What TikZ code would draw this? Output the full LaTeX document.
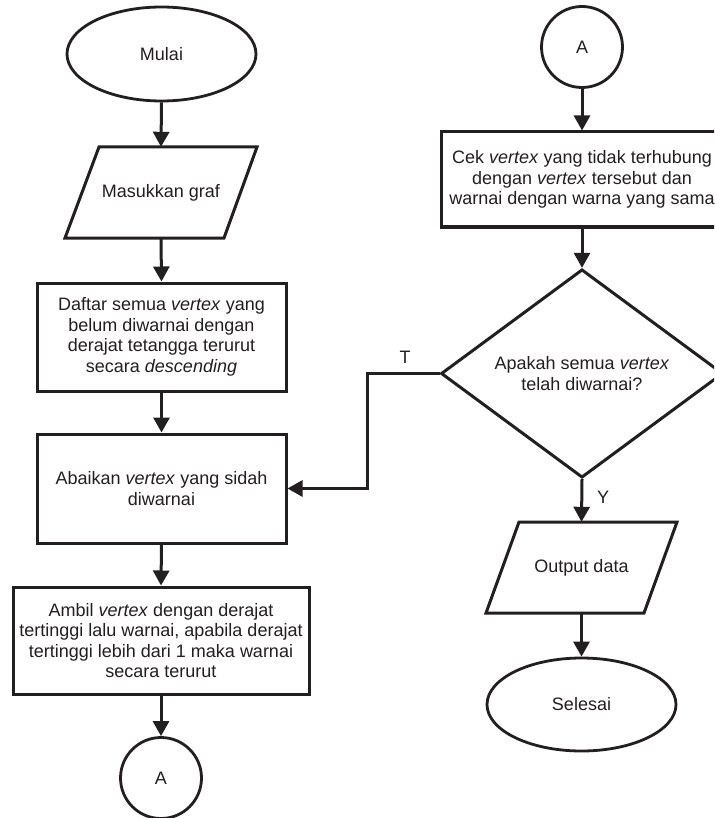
\documentclass[tikz,border=0pt]{standalone}
\usepackage{fontspec}
\setmainfont{Liberation Sans}
\usetikzlibrary{shapes.geometric,arrows.meta}
\definecolor{ink}{HTML}{231F20}
\begin{document}
\begin{tikzpicture}[x=1pt,y=-1pt,
  every node/.style={font=\fontsize{18}{20.5}\selectfont, text=ink},
  line/.style={draw=ink, line width=3pt},
  arr/.style={draw=ink, line width=3pt, -{Triangle[width=16pt,length=15pt]}},
  box/.style={rectangle, draw=ink, line width=3pt, fill=white, inner sep=0pt, align=center},
  term/.style={ellipse, draw=ink, line width=2.8pt, fill=white, inner sep=0pt},
  conn/.style={circle, draw=ink, line width=2.8pt, fill=white, inner sep=0pt, minimum size=81pt},
  para/.style={draw=ink, line width=3pt, fill=white, line join=miter},
  txt/.style={inner sep=0pt, align=center},
  lab/.style={inner sep=0pt}
]
\clip (0,0) rectangle (714,818);
\fill[white] (0,0) rectangle (714,818);

% left column
\node[term, minimum width=189pt, minimum height=94pt] (mulai) at (161.5,54) {Mulai};
\draw[para] (99,147) -- (257,147) -- (224,238) -- (65,238) -- cycle;
\node[txt, minimum height=91pt] (masuk) at (161,192.5) {Masukkan graf};
\node[box, minimum width=249pt, minimum height=108pt] (daftar) at (161.5,337)
  {Daftar semua \textit{vertex} yang\\belum diwarnai dengan\\derajat tetangga terurut\\secara \textit{descending}};
\node[box, minimum width=249pt, minimum height=109pt] (abk) at (161.5,488.5)
  {Abaikan \textit{vertex} yang sidah\\diwarnai};
\node[box, minimum width=296pt, minimum height=107pt] (ambil) at (161,640.5)
  {Ambil \textit{vertex} dengan derajat\\tertinggi lalu warnai, apabila derajat\\tertinggi lebih dari 1 maka warnai\\secara terurut};
\node[conn] (a1) at (161,778) {A};

% right column
\node[conn] (a2) at (582,47) {A};
\node[box, minimum width=282pt, minimum height=95pt] (cek) at (582,179.5)
  {Cek \textit{vertex} yang tidak terhubung\\dengan \textit{vertex} tersebut dan\\warnai dengan warna yang sama};
\node[diamond, draw=ink, line width=3pt, fill=white, inner sep=0pt, align=center,
  minimum width=282pt, minimum height=205pt] (dec) at (582,373.5)
  {Apakah semua \textit{vertex}\\telah diwarnai?};
\draw[para] (519,522) -- (677,522) -- (644,613) -- (486,613) -- cycle;
\node[txt, minimum height=91pt] (out) at (581.5,567.5) {Output data};
\node[term, minimum width=189pt, minimum height=93pt] (sel) at (581.5,704.5) {Selesai};

% connectors
\draw[arr] (mulai.south) -- (masuk.north);
\draw[arr] (masuk.south) -- (daftar.north);
\draw[arr] (daftar.south) -- (abk.north);
\draw[arr] (abk.south) -- (ambil.north);
\draw[arr] (ambil.south) -- (a1.north);
\draw[arr] (a2.south) -- (cek.north);
\draw[arr] (cek.south) -- (dec.north);
\draw[arr] (dec.south) -- (out.north);
\draw[arr] (out.south) -- (sel.north);
\coordinate (tc) at (367,373.5);
\draw[arr] (dec.west) -- (tc) |- (abk.east);

\node[lab] (tl) at (405,357) {T};
\node[lab] (yl) at (603,497) {Y};
\end{tikzpicture}
\end{document}
